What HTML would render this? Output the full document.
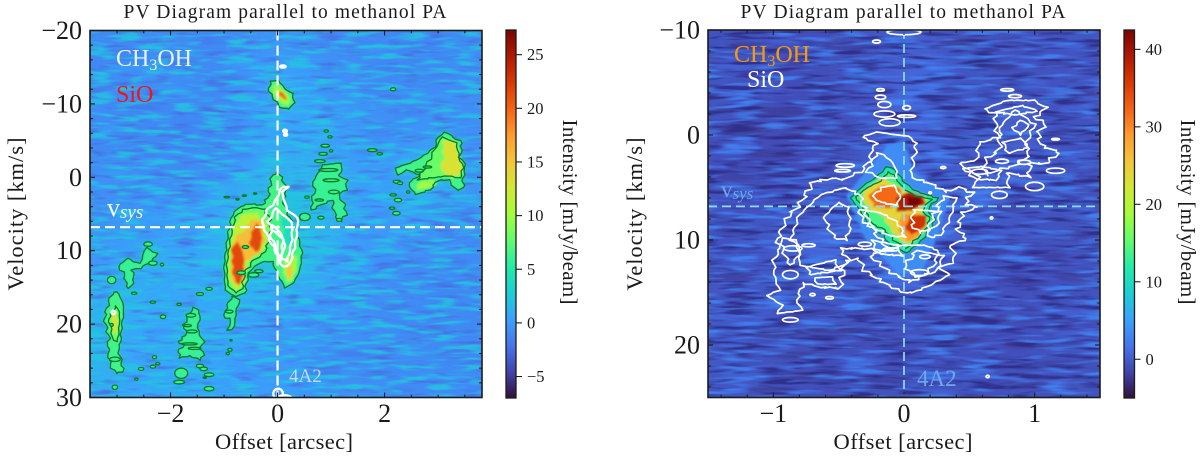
<!DOCTYPE html>
<html lang="en">
<head>
<meta charset="utf-8">
<title>PV Diagrams parallel to methanol PA</title>
<style>
html,body{margin:0;padding:0;background:#fff;width:1200px;height:462px;overflow:hidden}
svg{display:block}
text{font-family:"Liberation Serif","DejaVu Serif",serif;fill:#1a1a1a}
</style>
</head>
<body>
<svg id="figure" xmlns="http://www.w3.org/2000/svg" width="1200" height="462" viewBox="0 0 1200 462">
  <defs>
    <filter id="blur-heat" x="-10%" y="-10%" width="120%" height="120%"><feGaussianBlur stdDeviation="14 9"/></filter>
    <filter id="blur-streak" x="-20%" y="-20%" width="140%" height="140%"><feGaussianBlur stdDeviation="2.5 1"/></filter>
    <filter id="blur-fill" x="-10%" y="-10%" width="120%" height="120%"><feGaussianBlur stdDeviation="1.1"/></filter>
    <filter id="grain-left" x="0" y="0" width="100%" height="100%" color-interpolation-filters="sRGB">
      <feTurbulence type="fractalNoise" baseFrequency="0.035 0.2" numOctaves="2" seed="4" result="n"/>
      <feColorMatrix in="n" values="0 0 0 0 0.3  0 0 0 0 0.38  0 0 0 0 0.84  3 0 0 0 -1.65" result="dark"/>
      <feColorMatrix in="n" values="0 0 0 0 0.14  0 0 0 0 0.78  0 0 0 0 0.88  0 4 0 0 -1.9" result="light"/>
      <feMerge><feMergeNode in="dark"/><feMergeNode in="light"/></feMerge>
    </filter>
    <filter id="grain-right" x="0" y="0" width="100%" height="100%" color-interpolation-filters="sRGB">
      <feTurbulence type="fractalNoise" baseFrequency="0.025 0.2" numOctaves="2" seed="11" result="n"/>
      <feColorMatrix in="n" values="0 0 0 0 0.18  0 0 0 0 0.17  0 0 0 0 0.52  4.5 0 0 0 -2.2" result="dark"/>
      <feColorMatrix in="n" values="0 0 0 0 0.26  0 0 0 0 0.52  0 0 0 0 0.96  0 4 0 0 -2.0" result="light"/>
      <feMerge><feMergeNode in="dark"/><feMergeNode in="light"/></feMerge>
    </filter>
    <clipPath id="clip-left"><rect x="90" y="30" width="392" height="368"/></clipPath>
    <clipPath id="clip-right"><rect x="708" y="30" width="392" height="368"/></clipPath>
  </defs>

  <g id="panel-left"></g>
  <g id="panel-right"></g>

  <text x="285" y="18" font-size="19.5" text-anchor="middle" textLength="323" lengthAdjust="spacing">PV Diagram parallel to methanol PA</text>
  <text x="903" y="18" font-size="19.5" text-anchor="middle" textLength="325" lengthAdjust="spacing">PV Diagram parallel to methanol PA</text>
  <text x="284" y="449" font-size="22.5" text-anchor="middle" textLength="138" lengthAdjust="spacing">Offset [arcsec]</text>
  <text x="903" y="449" font-size="22.5" text-anchor="middle" textLength="139" lengthAdjust="spacing">Offset [arcsec]</text>
  <text transform="translate(23,214) rotate(-90)" font-size="22.5" text-anchor="middle" textLength="153" lengthAdjust="spacing">Velocity [km/s]</text>
  <text transform="translate(642,214) rotate(-90)" font-size="22.5" text-anchor="middle" textLength="153" lengthAdjust="spacing">Velocity [km/s]</text>
  <text transform="translate(563,212) rotate(90)" font-size="21" text-anchor="middle" textLength="185" lengthAdjust="spacing">Intensity [mJy/beam]</text>
  <text transform="translate(1181,212) rotate(90)" font-size="21" text-anchor="middle" textLength="185" lengthAdjust="spacing">Intensity [mJy/beam]</text>

  <text x="116" y="66" font-size="24" style="fill:#e8f2ff">CH<tspan font-size="16" dy="4">3</tspan><tspan dy="-4">OH</tspan></text>
  <text x="116" y="102" font-size="24" style="fill:#f01414">SiO</text>
  <text x="107" y="216" font-size="26" style="fill:#f2f6ff">v<tspan font-size="19" font-style="italic" dy="2">sys</tspan></text>
  <text x="289" y="382" font-size="19" style="fill:#c4dcff">4A2</text>

  <text x="734" y="62" font-size="24" style="fill:#f59a12">CH<tspan font-size="16" dy="4">3</tspan><tspan dy="-4">OH</tspan></text>
  <text x="747" y="87" font-size="24" style="fill:#ffffff">SiO</text>
  <text x="721" y="197" font-size="23" style="fill:#6aa8ea">v<tspan font-size="17" font-style="italic" dy="2">sys</tspan></text>
  <text x="917" y="386" font-size="23" style="fill:#6fa8e8">4A2</text>
</svg>

<script>
/* ---------- colour map (turbo) ---------- */
const turboStops = ['#30123b','#4145ab','#4675ed','#39a2fc','#1bcfd4','#24eca6','#61fc6c','#a4fc3b','#d1e834','#f3c63a','#fe9b2d','#f36315','#d93806','#b11901','#7a0402'];

/* ---------- tick values ---------- */
const leftXTicks = [-2, 0, 2];
const leftYTicks = [-20, -10, 0, 10, 20, 30];
const leftBarTicks = [-5, 0, 5, 10, 15, 20, 25];
const rightXTicks = [-1, 0, 1];
const rightYTicks = [-10, 0, 10, 20];
const rightBarTicks = [0, 10, 20, 30, 40];
const systemicVelocity = 6.8;
const sourceOffset = 0;

/* ---------- left image: coarse intensity grid (mJy/beam), rows top to bottom ---------- */
const leftHeat = [
 [-1,-1,-.8,-1,-1,-.8,-.3,-.5,-.8,-1,-1,-1,-1,-.9],
 [-1,-.8,-.7,-.9,-1,-.5,.4,.2,-.5,-.8,-1,-1,-.9,-.9],
 [-.9,-1,-1,-1,-1,-.5,.7,.4,-.2,-.4,-.8,-1,-.8,-.8],
 [-1,-1,-1,-1.1,-1,-.5,.6,.6,.2,-.3,-.6,-.4,0,-.8],
 [-.8,-.8,-.9,-1,-.6,.1,1,1,1,.1,-.2,.5,1,-.3],
 [-.7,-.5,-.5,-.4,.1,1.2,2,2,1.6,.3,.1,.8,1,-.5],
 [-.5,.1,.2,0,.7,2.4,2,2,1.2,.2,-.2,-.2,-.5,-.8],
 [-.3,.6,1,.4,.9,2.4,2,2,.6,0,-.6,-.8,-.8,-.9],
 [.7,1,.6,.5,.6,1.4,.6,.6,0,-.3,-.8,-.9,-1,-1],
 [1.4,.5,.4,1,.5,.3,-.3,-.2,-.3,-.6,-.8,-1,-.9,-1],
 [1.3,.5,.4,1,.3,0,-.4,-.3,-.6,-.8,-1,-.9,-1,-1],
 [1,.4,.6,.8,.3,0,.1,-.3,-.6,-.8,-.8,-.9,-.9,-1]
];
/* [offset, velocity, half-width arcsec, half-height km/s, intensity] */
const leftStreaks = [
 [-3,-17.5,.3,.5,-2],[-2.3,-18,.35,.4,.8],[-1.3,-18.5,.35,.4,-2.2],[.6,-18,.4,.4,-2],[1.6,-17.5,.4,.5,.7],[2.6,-18,.4,.4,-2.4],[3.4,-16.5,.3,.4,.6],
 [-2.8,-15,.35,.4,.8],[-1.8,-15.5,.3,.4,-2.4],[-.8,-15.5,.35,.4,.7],[1,-15,.3,.4,-2.3],[2.1,-15,.4,.4,-2.2],[3.1,-14,.3,.4,-2],
 [-3.1,-12.5,.3,.4,-2.4],[-2,-12,.35,.4,.8],[-1.1,-13,.25,.6,-3],[.8,-12,.35,.4,.8],[1.8,-12,.3,.4,-2.3],[3,-11,.35,.4,.7],
 [-2.6,-9.5,.4,.4,-2.6],[-1.5,-9,.35,.4,-2.2],[-.7,-9.5,.3,.4,.5],[1.2,-9,.35,.5,.9],[2.4,-9,.4,.4,-2.2],[3.3,-8,.3,.4,-2],
 [-3,-6.5,.35,.4,.7],[-2,-6,.35,.4,-2.5],[-1,-6.5,.35,.4,-2.4],[-.4,-6,.3,.4,.9],[2,-6,.35,.4,-2.3],[3.5,-5.5,.3,.4,-2.2],
 [-2.7,-3.5,.4,.4,-2.6],[-1.6,-3,.35,.4,.7],[-.7,-3,.3,.4,-2.2],[1.7,-3.5,.3,.4,-2.1],[2.6,-3,.3,.4,.9],
 [-3.1,-.5,.3,.4,.8],[-2.1,-.5,.35,.4,-2.4],[-1.2,0,.35,.4,-2],[1.9,-.5,.3,.4,.5],[3.6,-.5,.3,.4,-2.3],
 [-2.8,2,.35,.4,-2.2],[-1.7,2.5,.35,.4,-2.1],[-.9,2,.3,.4,.9],[1.5,3,.3,.4,-1.8],[3,4,.4,.4,-2.4],
 [-3.2,5,.3,.4,-2],[-2.2,5.5,.35,.4,.9],[-1.3,5,.3,.4,.7],[1.8,5,.35,.4,-1.8],[3.4,5,.3,.4,-2.5],
 [-2.6,8,.35,.4,-1.5],[-1.6,9,.3,.4,-1],[1.6,8,.35,.4,-2],[2.6,9,.4,.4,-2.6],[3.4,8,.3,.4,-2],
 [1.2,11,.35,.4,-2.3],[2.2,12,.4,.4,-2.3],[3.2,11.5,.35,.4,-2.6],[1.7,14,.35,.4,-2.5],[2.9,14.5,.4,.4,-2.2],
 [.3,16.5,.08,.9,-4],[-1.8,13.5,.3,.4,-1.2],[-3.2,13,.25,.4,-1.5],[1,17,.4,.4,-2.3],[2.1,17.5,.4,.4,-2.5],[3.3,17.5,.35,.4,-2.2],
 [.7,20,.4,.4,-2.4],[1.7,20.5,.4,.4,.6],[2.8,21,.4,.4,-2.6],[-2.2,21,.3,.4,-1.2],[-.7,21,.25,.4,-1.6],
 [.5,23,.35,.4,.7],[1.4,24,.4,.4,-2.5],[2.4,24,.4,.4,.5],[3.4,23.5,.3,.4,-2.4],[-2.4,24.5,.3,.4,-1.4],
 [.8,26.5,.4,.4,-2.3],[1.9,27,.35,.4,-2.4],[3,27,.4,.4,.7],[-.6,27,.35,.4,-1.7],[-2.3,28,.3,.4,-1.2],[.4,29,.35,.4,.6],[2.2,29,.35,.4,-2.3]
];
/* [contour level, outline as [offset, velocity] pairs] */
const leftFilled = [
 [6,[[.66,.6],[.85,-1.7],[1.17,-1.95],[1.22,-1],[1.13,-.3],[1.3,.4],[1.28,1.7],[1.13,2.4],[1.26,3.8],[1.28,5.1],[1.17,6.1],[1.07,5.1],[1.02,3.1],[.91,3.5],[.79,3.8],[.64,4.5],[.64,3.1],[.7,1.7]]],
 [6.5,[[2.2,-1.27],[2.48,-1.95],[2.7,-2.77],[2.94,-4.13],[3,-5.5],[3.13,-6.2],[3.28,-5.5],[3.45,-4.7],[3.41,-2.77],[3.52,-1.4],[3.47,-.3],[3.47,1.46],[3.36,1.87],[3.19,.37],[3,.37],[2.85,1.7],[2.57,2.4],[2.44,.8],[2.66,-.3],[2.42,-1],[2.25,-.3]]],
 [8,[[2.95,-3.9],[3.07,-5.5],[3.34,-4.7],[3.39,-2.77],[3.47,-1.3],[3.41,.1],[3.2,-.2],[2.85,.1],[2.6,.4],[2.78,-1.6]]],
 [10,[[2.65,.6],[2.9,.4],[3.0,.9],[2.8,1.5],[2.6,1.7]]],
 [13,[[3.07,-5.1],[3.32,-4.9],[3.41,-2.77],[3.47,-.7],[3.26,.1],[3.04,-1],[3.11,-3]]],
 [6.5,[[-3,15.6],[-2.91,16.7],[-2.87,18.1],[-2.91,20.1],[-2.94,22.8],[-2.98,23.5],[-2.91,25.2],[-2.89,26.5],[-3.02,26.7],[-3.13,25.6],[-3.17,23.5],[-3.15,21.9],[-3.21,20.1],[-3.24,19.2],[-3.17,17.4],[-3.13,16.4],[-3.06,15.6]]],
 [8,[[-3.03,17.5],[-2.95,18.4],[-2.96,20.5],[-2.99,22.4],[-3.08,22.2],[-3.12,20.2],[-3.16,19.3],[-3.08,18.2]]],
 [13,[[-3.07,18.4],[-2.99,19],[-3,21.2],[-3.07,21.3],[-3.11,19.7]]],
 [6,[[-2.94,11.8],[-2.79,11],[-2.7,11.5],[-2.57,11.7],[-2.51,10.6],[-2.46,9.5],[-2.38,9.9],[-2.25,10.4],[-2.35,11.5],[-2.46,11.9],[-2.57,12.4],[-2.72,12.6],[-2.68,14],[-2.76,15.1],[-2.83,14.9],[-2.85,13.3],[-2.94,12.6]]],
 [6,[[-1.58,17.7],[-1.47,18.1],[-1.45,19.4],[-1.5,20.5],[-1.45,21.5],[-1.37,22.4],[-1.45,23.3],[-1.37,24.2],[-1.45,24.9],[-1.64,24.3],[-1.82,24.6],[-1.86,23.8],[-1.75,22.8],[-1.86,22.4],[-1.71,21.5],[-1.75,20.1],[-1.67,18.8]]],
 [6,[[-.85,16.2],[-.7,16.7],[-.78,18.3],[-.79,19.7],[-.85,20.8],[-.93,20.8],[-.87,19.2],[-1,19.2],[-.96,17.8],[-.91,17]]],
 [6.5,[[-.98,15.35],[-1,11.9],[-.93,7.9],[-.85,5.1],[-.7,4],[-.51,3.6],[-.29,3.8],[-.18,2.8],[-.14,1.05],[-.1,-.3],[.01,-.7],[.1,.4],[.18,1.7],[.1,3.1],[.2,5.1],[.36,7.5],[.46,10.3],[.42,12.6],[.31,14.3],[.14,15.1],[.01,13.3],[-.1,11.5],[-.29,11.5],[-.51,12.6],[-.57,14],[-.61,15.8],[-.79,16.2]]],
 [4,[[.05,5],[.3,6.5],[.3,9],[.15,9.5],[.1,7]]],
 [8,[[-.93,14.7],[-.95,11.9],[-.87,7.9],[-.79,5.4],[-.64,4.4],[-.42,4.1],[-.24,4.4],[-.14,5.7],[-.14,8.5],[-.27,10.5],[-.45,11.3],[-.62,13],[-.66,15.2],[-.78,15.8]]],
 [11.5,[[-.91,14],[-.91,9.9],[-.81,6.5],[-.64,5],[-.4,4.9],[-.21,6.5],[-.18,8.5],[-.29,10.2],[-.51,11],[-.59,12.6],[-.63,14.7],[-.78,15.4]]],
 [15.5,[[-.87,13.6],[-.87,9.9],[-.78,8],[-.61,7.2],[-.51,5.8],[-.31,5.8],[-.24,8.5],[-.34,10.4],[-.6,11.5],[-.63,13.9],[-.77,14.7]]],
 [21.5,[[-.85,9.5],[-.74,8.7],[-.63,10.6],[-.63,13.3],[-.73,14.7],[-.83,13.5],[-.85,11.3]]],
 [21.5,[[-.5,7.5],[-.38,6.2],[-.3,7.5],[-.3,9.2],[-.38,10.2],[-.52,9.4]]],
 [10,[[.14,11],[.35,10.6],[.36,12.4],[.27,14],[.18,14.4],[.1,12.6]]],
 [15,[[.17,12.2],[.29,12],[.26,13.7],[.18,14]]],
 [7,[[-.14,-13.1],[.02,-13.2],[.13,-12.1],[.28,-11.4],[.31,-10.2],[.22,-9.3],[.05,-9.5],[-.06,-10.6],[-.16,-11.7]]],
 [10.5,[[-.08,-12.5],[.03,-12.4],[.14,-11.6],[.24,-10.7],[.19,-9.9],[.06,-10.2],[-.07,-11.4]]],
 [20,[[.03,-11.8],[.1,-11.5],[.19,-10.7],[.14,-10.5],[.03,-11.2]]]
];
const leftGreenSpots = [
 [-3.1,14,.08,.5],[-3.04,28.6,.05,.3],[-2.55,26.1,.05,.2],[-2.64,27.5,.03,.15],[-2.33,25.8,.05,.2],[-2.3,24.5,.04,.2],[-2.24,25.4,.04,.15],[-2.14,19,.05,.25],[-2.68,15.8,.05,.15],[-2.33,17,.05,.15],[-1.84,17.3,.04,.15],[-1.45,15.9,.07,.2],[-1.28,15.2,.06,.2],
 [-2.16,11.9,.03,.2],[-2.33,11.7,.08,.3],[-2.42,9.1,.08,.3],[-.89,23.5,.04,.2],[-.93,24,.03,.15],[-.87,22.2,.02,.1],[-1.8,26.7,.12,.7],[-1.84,27.9,.1,.25],[-1.45,25.7,.07,.25],[-1.38,26.1,.07,.25],[-1.28,26.9,.09,.25],[-1.28,28.8,.09,.3],[-1.36,27.3,.03,.1],[-3.04,24.8,.1,.3],[-3.1,20.1,.03,.2],
 [.89,-4.3,.08,.2],[.85,-3.2,.08,.2],[.79,-2.2,.1,.2],[.98,-5.5,.04,.15],[.91,-6.3,.04,.15],[1,-3.6,.03,.15],[1.77,-3.7,.09,.2],[1.91,-3.2,.05,.15],[2.16,-12,.05,.2],[2.22,4.9,.07,.25],[2.25,3.1,.07,.25],[2.16,2.4,.06,.15],[2.14,4.2,.05,.15],[2.23,.6,.07,.2],[2.29,.8,.05,.2],[2.44,2,.03,.15],[.55,2.7,.04,.15],[.51,5.4,.1,.5],[.81,5.5,.06,.2],[1.15,5.8,.05,.2],[.95,-1,.18,.2],[1,.4,.15,.2],[1.05,2,.1,.25],[.78,3.1,.08,.15],
 [2.65,-.9,.08,.2],[2.8,-1.4,.08,.15],[-1.62,18.8,.09,.25],[-1.6,21,.1,.2],[-1.65,22.7,.15,.15],[-1.55,23.3,.12,.15],[-1.68,20.2,.07,.15],[-.6,9.5,.06,.2],[-.9,18.3,.07,.2],[-.68,13,.08,.25],[-.45,13.3,.1,.3],[-.35,12.8,.08,.2],[-.75,3,.03,.1],[-.62,2.5,.04,.1],[-.42,2.2,.03,.1],[-.95,2.7,.05,.1]
];
const leftWhiteContours = [
 [[.1,1.3],[.21,1.3],[.08,2],[.18,4.5],[.38,5.5],[.36,7.6],[.33,9.2],[.23,11.9],[.1,12.2],[-.05,9.9],[-.18,8.1],[-.29,6.2],[-.2,4.5],[-.05,3.4],[.03,2.1]],
 [[-.03,4.2],[.1,5.1],[.27,6.1],[.27,8.5],[.18,11.5],[.07,11],[.1,8.3],[-.05,7.5],[-.18,6.1]],
 [[-.1,6.5],[.05,7.5],[.14,9.2],[.05,11.5],[-.05,9.2],[-.14,7.9]]
];
const leftWhiteSpots = [[.1,-15.1,.05,.15],[.14,-6.3,.035,.2],[.15,-5.8,.03,.15],[.01,29.5,.09,.7],[.13,30,.12,.3],[-3.07,18.4,.035,.25]];

/* ---------- right image ---------- */
const rightHeat = [
 [-.6,-.7,-.8,-.9,-.7,0,.3,-.5,-.7,-.8,-.6,-.5],
 [-.5,-.8,-1,-.9,-.6,.2,1.2,-.2,-.6,-.7,-.6,-.5],
 [-.7,-.9,-1,-1,-.7,.2,.7,-.4,0,.1,-.6,-.6],
 [-.8,-1,-1,-1,-.5,.5,.7,-.1,.2,.4,-.5,-.6],
 [-.7,-.8,-.6,.1,.2,1.4,1.2,.3,.5,.3,-.6,-.7],
 [-.6,-.4,.1,.7,.8,1.6,1.6,.4,-.2,-.5,-.7,-.7],
 [-.6,-.4,.1,.7,.5,1,1.4,.1,-.6,-.8,-.8,-.7],
 [-.4,-.1,-.2,-.2,-.4,-.4,-.3,-.5,-.7,-.8,-.7,-.6],
 [0,-.5,-.7,-.9,-.9,-.8,-.7,-.8,-.9,-.8,-.7,-.7],
 [-.4,-.6,-.8,-.9,-.8,-.7,-.6,-.7,-.8,-.7,-.7,-.7]
];
const rightStreaks = [
 [-1.2,-8.5,.15,.4,-2.6],[-.9,-9,.15,.3,1.5],[-.45,-8.5,.18,.4,-2.5],[-.1,-9,.12,.3,-2.2],[.45,-8.8,.18,.4,-3],[.9,-9,.15,.3,-2.4],[1.3,-8.5,.15,.4,1.4],
 [-1.3,-6.5,.15,.35,1.4],[-.8,-6.8,.18,.4,-2.4],[-.35,-6.5,.12,.35,1.2],[.25,-6.5,.15,.35,1.2],[.7,-6.5,.15,.35,-3],[1.2,-6.8,.15,.4,-2.2],
 [-1.1,-4.5,.2,.4,1.5],[-.6,-4.8,.15,.35,-2.6],[-.2,-4.3,.12,.35,-2.4],[.4,-4.5,.14,.35,-2.4],[.95,-5,.15,.35,1.4],[1.35,-4,.12,.35,-2.6],
 [-1.3,-2.5,.15,.4,-2.6],[-.95,-2.2,.2,.4,-2.8],[-.5,-2.5,.15,.35,1],[.35,-2.5,.15,.35,-2.6],[1.3,-2.5,.12,.35,1.2],
 [-1.2,-.5,.2,.45,-3],[-.7,-.3,.2,.4,-2.8],[-.4,-.6,.12,.35,-2.2],[.3,-.4,.15,.4,-2.4],[1.3,-.3,.15,.4,-2.8],
 [-1.35,1.5,.12,.4,1.4],[-1,1.8,.2,.4,-2.6],[-.55,1.2,.15,.35,-2.6],[.4,2,.12,.35,-2.4],[1.3,2,.15,.4,1.2],
 [-1.3,4,.15,.4,-2.4],[-.95,3.5,.18,.4,-2.4],[1.3,4.5,.15,.4,-2.4],
 [-1.25,6,.15,.4,1.5],[-.95,6.5,.12,.35,-2],[.75,7,.2,.4,-2.6],[1.25,7,.15,.4,1.4],
 [-1.3,9,.15,.4,-2.8],[.85,9,.2,.4,1],[1.3,9.5,.15,.4,-2.4],
 [-1.25,11.5,.15,.4,1.2],[.65,11,.2,.4,-2.8],[1.05,11.5,.2,.35,-2.8],
 [-1.3,13.5,.18,.4,-2.6],[-.2,15.5,.15,.35,-2.6],[.55,13.5,.18,.4,1.4],[.9,14,.2,.4,-2.4],[1.3,13.5,.15,.4,-2.6],
 [-1.3,17,.18,.4,1.8],[-1.05,18,.12,.4,2.4],[-.7,17,.2,.35,-2.6],[-.2,16.8,.18,.35,-2.8],[.3,17.5,.2,.35,-2.6],[.85,17.5,.2,.35,-3],[1.3,17,.15,.35,1.2],
 [-1.05,19,.25,.35,-3],[-.55,18.5,.2,.35,-3.4],[-.15,19.5,.18,.35,-2.8],[.4,19.5,.2,.35,-3],[.95,20,.2,.35,-3],[1.3,19,.15,.35,1],
 [-1.3,20.5,.18,.35,-2.4],[-.8,21,.2,.35,-2.8],[-.3,21.5,.2,.35,1],[.7,21.5,.2,.35,-2.6],[1.2,21.8,.2,.35,-2.4],
 [-1.2,23,.2,.35,1.2],[-.7,23,.25,.35,-3.2],[-.2,23.5,.2,.35,-2.8],[.5,23,.2,.35,1.2],[.9,23.8,.2,.35,-2.8],[-1,24.3,.2,.3,-3],[.2,24.5,.2,.3,1.3]
];
const rightFilled = [
 [3.5,[[-.44,5.7],[-.26,3],[-.13,1],[0,.5],[.07,3.5],[.35,5.8],[.24,10],[.14,13],[-.05,13.2],[-.3,9.8]]],
 [11,[[-.41,6],[-.31,4.8],[-.21,4],[-.13,3],[-.07,3.3],[.01,4.6],[.1,5.4],[.26,6],[.18,7.1],[.24,8.1],[.2,9],[.12,10.3],[.02,11.2],[-.11,10.5],[-.16,9.5],[-.26,8.8],[-.34,7.1]]],
 [14,[[-.37,5.9],[-.28,5],[-.18,4.4],[-.12,3.5],[-.08,3.8],[-.01,5],[.08,5.8],[.21,6.1],[.14,7.1],[.2,8.1],[.16,9],[.08,10.1],[.02,10.8],[-.08,10],[-.15,9],[-.24,8.5],[-.31,7]]],
 [24,[[-.32,5.4],[-.17,4.1],[.01,5.3],[.18,6],[.13,7.6],[.18,8.6],[.1,9.9],[.01,10.5],[-.08,9.3],[-.17,7.6],[-.29,6.9]]],
 [29,[[-.02,7.5],[.14,7.5],[.12,9.6],[.03,10.2],[-.04,9]]],
 [32,[[-.27,5.7],[-.17,4.8],[-.03,5],[-.02,6.3],[-.11,7],[-.23,6.8]]],
 [39,[[-.06,6],[.04,5.4],[.14,5.8],[.17,6.5],[.06,7.2],[-.05,7.3]]],
 [36.5,[[.04,7.7],[.18,7.6],[.16,8.8],[.06,9.5],[.01,9]]],
 [42.5,[[.02,5.9],[.12,6],[.13,6.6],[.04,6.8]]]
];
const rightWhiteContours = [
 [[-1.05,15.3],[-1,15],[-.95,14.8],[-.99,13.6],[-.99,12.9],[-1,11.9],[-.95,11],[-.97,10.2],[-.95,9.3],[-.87,7.4],[-.83,7.1],[-.78,6.2],[-.74,5.4],[-.7,4.5],[-.62,4.3],[-.54,4.1],[-.47,4.3],[-.39,3.8],[-.33,3.5],[-.26,2.4],[-.25,1.5],[-.21,.8],[-.32,.2],[-.21,-.3],[-.05,0],[.03,.1],[.1,.8],[.07,1],[.1,1.4],[.07,2.2],[.07,3],[.05,4],[.24,4.8],[.31,5.4],[.43,5],[.52,5.5],[.47,6.5],[.56,6.9],[.45,7.4],[.43,8.2],[.41,9],[.48,9.9],[.35,10.5],[.39,11.3],[.37,12.2],[.26,12.6],[.35,13.3],[.2,14.3],[.07,15],[-.01,15],[-.15,14.1],[-.3,12.9],[-.35,11.7],[-.45,12.1],[-.47,13.3],[-.49,14.6],[-.64,14.5],[-.77,14.1],[-.82,15.7],[-.78,16.7],[-.97,17],[-.93,16.2]],
 [[-.8,7.6],[-.64,5.7],[-.45,5],[-.34,5.7],[-.26,8.6],[-.18,10],[-.11,11],[-.34,10.8],[-.49,10.8],[-.41,12.1],[-.57,12.9],[-.8,12.4],[-.8,10.5],[-.87,10]],
 [[-.6,7.6],[-.5,6.4],[-.43,6.9],[-.41,8.6],[-.44,10],[-.53,9.8],[-.59,8.6]],
 [[-.18,5],[-.08,4.8],[-.03,5.7],[-.05,6.7],[-.15,6.5],[-.24,6]],
 [[-.34,7.1],[-.18,7.4],[-.05,8.3],[.01,9.7],[-.11,9.6],[-.22,8.9],[-.32,8.1]],
 [[.07,7.1],[.28,7.3],[.25,8.7],[.12,9.3],[.06,8.6]],
 [[-.21,1.7],[-.15,1.9],[-.07,2.9],[-.05,4.1],[-.18,4.1],[-.28,3.5]],
 [[.01,10.5],[.16,10.5],[.26,11],[.24,12.2],[.16,13.3],[.05,14],[-.07,13.3],[-.18,12.4],[-.26,11.4]],
 [[.62,-2.5],[.79,-3.3],[.99,-3.3],[1.09,-2.6],[1,-1.7],[1.09,-1],[1.02,-.2],[1.06,1.1],[1.19,1.6],[1.09,2.7],[.96,2.7],[.96,4],[.79,3.6],[.8,5],[.52,5],[.58,4],[.42,2.7],[.56,2.4],[.57,.8],[.72,.2],[.7,-1.1],[.71,-1.9]],
 [[.73,-.7],[.85,-2.4],[1,-1],[.93,.95],[.96,1.9],[.85,2.9],[.73,3.3],[.62,3.8],[.62,2.4],[.73,1.4]],
 [[.89,-1.4],[.96,-1],[.89,0],[.83,-.7]],
 [[-.93,9.8],[-.83,10],[-.8,11.4],[-.87,12.4],[-.93,11]],
 [[-.75,12.6],[-.53,11.9],[-.49,12.9],[-.72,13.3]],
 [[-.68,13.6],[-.55,13.5],[-.52,14.2],[-.66,14.2]],
 [[-.25,10],[-.05,10.5],[-.02,11.5],[-.2,11.3]],
 [[.3,5.8],[.4,6],[.35,8],[.28,9.5],[.2,9.8],[.18,9]],
 [[.1,11],[.3,11.5],[.25,13],[.1,13.5],[0,12.5]],
 [[.45,3.2],[.6,3],[.75,3.4],[.7,4.3],[.55,4.2]],
 [[.75,.7],[.9,.3],[.95,1.2],[.8,1.7]],
 [[.7,-2.2],[.9,-2.8],[1.03,-2.3],[.85,-1.9]]
];
const rightWhiteSpots = [
 [.79,-4.3,.05,.12],[.85,-3.7,.05,.15],[1.16,.4,.03,.08],[1.16,3.4,.07,.25],[1,4.9,.07,.4],[.73,5.7,.06,.35],[.67,7.9,.01,.1],[.64,23,.012,.12],[-.21,-8.9,.03,.15],[-.18,-4.3,.03,.12],[-.18,-3.6,.04,.2],[-.15,-2.9,.05,.3],[-.15,-2,.08,.3],[-.11,-1.2,.08,.35],[.02,-2.6,.03,.2],[.02,-1.8,.07,.12],[-.45,2.9,.07,.17],[-.47,3.4,.06,.12],[.0,-9.8,.13,.25],[-.85,10.8,.07,.25],[-.73,10.5,.05,.15],[-.87,13.3,.06,.4],[-.7,15.2,.02,.12],[-.57,15.5,.03,.12],[-.87,17.6,.06,.22],[.16,11.6,.04,.18],[.12,13.1,.07,.28],[.3,3.1,.02,.1],[.2,5.5,.01,.1],[.58,3.5,.06,.25],[.75,2.5,.05,.2],[.92,2.6,.05,.2],[-.3,10.4,.05,.2],[-.1,10.9,.06,.15]
];

/* ---------- helpers ---------- */
const svgNS = 'http://www.w3.org/2000/svg';
function hexRgb(h){return [parseInt(h.slice(1,3),16),parseInt(h.slice(3,5),16),parseInt(h.slice(5,7),16)];}
function turbo(t){
  t=Math.max(0,Math.min(1,t));
  const p=t*(turboStops.length-1), i=Math.min(turboStops.length-2,Math.floor(p)), f=p-i;
  const a=hexRgb(turboStops[i]), b=hexRgb(turboStops[i+1]);
  return 'rgb('+a.map((c,k)=>Math.round(c+(b[k]-c)*f)).join(',')+')';
}
function make(tag,attrs,parent){
  const el=document.createElementNS(svgNS,tag);
  for(const k in attrs) el.setAttribute(k,attrs[k]);
  parent.appendChild(el);
  return el;
}
function linear(d0,d1,r0,r1){return v=>r0+(v-d0)/(d1-d0)*(r1-r0);}
function fmt(v){return v<0?'\u2212'+Math.abs(v):String(v);}

function drawPanel(cfg){
  const root=document.getElementById(cfg.id);
  const sx=linear(cfg.xDomain[0],cfg.xDomain[1],cfg.box[0],cfg.box[2]);
  const sy=linear(cfg.yDomain[0],cfg.yDomain[1],cfg.box[1],cfg.box[3]);
  const col=v=>turbo((v-cfg.vRange[0])/(cfg.vRange[1]-cfg.vRange[0]));
  const clipped=make('g',{'clip-path':'url(#'+cfg.clip+')'},root);
  
  

  make('rect',{x:cfg.box[0],y:cfg.box[1],width:cfg.box[2]-cfg.box[0],height:cfg.box[3]-cfg.box[1],fill:col(cfg.base)},clipped);

  /* coarse heat cells */
  const heatG=make('g',{filter:'url(#blur-heat)'},clipped);
  const rows=cfg.heat.length, cols=cfg.heat[0].length;
  const dx=(cfg.xDomain[1]-cfg.xDomain[0])/cols, dy=(cfg.yDomain[1]-cfg.yDomain[0])/rows;
  cfg.heat.forEach((row,r)=>row.forEach((val,c)=>{
    const x0=sx(cfg.xDomain[0]+c*dx), y0=sy(cfg.yDomain[0]+r*dy);
    const cell=make('rect',{x:x0-(c===0?30:0),y:y0-(r===0?30:0),width:sx(cfg.xDomain[0]+(c+1)*dx)-x0+(c===0?30:0)+(c===cols-1?30:0)+.5,height:sy(cfg.yDomain[0]+(r+1)*dy)-y0+(r===0?30:0)+(r===rows-1?30:0)+.5,fill:col(val)},heatG);
    
    
  }));

  /* streaks */
  const streakG=make('g',{filter:'url(#blur-streak)',opacity:cfg.streakOpacity},clipped);
  cfg.streaks.forEach(s=>{
    const e=make('ellipse',{cx:sx(s[0]),cy:sy(s[1]),rx:Math.abs(sx(s[2])-sx(0)),ry:Math.abs(sy(s[3])-sy(0)),fill:col(s[4])},streakG);
    
    
  });

  /* decorative fine grain texture of the image background */
  const grain=make('rect',{x:cfg.box[0],y:cfg.box[1],width:cfg.box[2]-cfg.box[0],height:cfg.box[3]-cfg.box[1],filter:'url(#'+cfg.grain+')',opacity:cfg.grainOpacity},clipped);
  
  

  /* contour outlines through the axis functions, with a small finger-like edge */
  const outline=(p,amp)=>{
    const out=[]; let k=0;
    const px=p.map(q=>[sx(q[0]),sy(q[1])]);
    px.forEach((a,i)=>{
      const b=px[(i+1)%px.length];
      const n=Math.max(1,Math.round(Math.hypot(b[0]-a[0],b[1]-a[1])/3.5));
      for(let j=0;j<n;j++){
        const x=a[0]+(b[0]-a[0])*j/n, y=a[1]+(b[1]-a[1])*j/n;
        out.push((x+amp*(Math.sin(k*1.9)+.6*Math.sin(k*4.3))).toFixed(1)+','+(y+amp*.35*Math.sin(k*3.1)).toFixed(1));
        k++;
      }
    });
    return out.join(' ');
  };

  const fillG=make('g',{filter:'url(#blur-fill)'},clipped);
  cfg.filled.forEach(f=>{
    const poly=make('polygon',{points:outline(f[1],cfg.greenRough),fill:col(f[0])},fillG);
    
    
  });
  const greenG=make('g',{fill:'none',stroke:'#0a7a22','stroke-width':1.3,'stroke-linejoin':'round'},clipped);
  
  
  cfg.filled.forEach(f=>{
    if(f[0]>=cfg.lineLevels[0]&&f[0]<=cfg.lineLevels[1]) make('polygon',{points:outline(f[1],cfg.greenRough)},greenG);
  });
  cfg.greenSpots.forEach(s=>{
    make('ellipse',{cx:sx(s[0]),cy:sy(s[1]),rx:Math.abs(sx(s[2])-sx(0)),ry:Math.abs(sy(s[3])-sy(0)),fill:col(cfg.spotLevel)},greenG);
  });

  /* reference lines */
  const hLine=make('line',{x1:cfg.box[0],x2:cfg.box[2],y1:sy(systemicVelocity),y2:sy(systemicVelocity),stroke:cfg.refColor,'stroke-width':cfg.refWidth,'stroke-dasharray':cfg.refDash},clipped);
  
  
  const vLine=make('line',{x1:sx(sourceOffset),x2:sx(sourceOffset),y1:cfg.box[1],y2:cfg.box[3],stroke:cfg.refColor,'stroke-width':cfg.refWidth,'stroke-dasharray':cfg.refDash},clipped);
  
  

  /* white contours */
  const whiteG=make('g',{fill:'none',stroke:'#ffffff','stroke-width':cfg.whiteWidth,'stroke-linejoin':'round'},clipped);
  
  
  cfg.white.forEach(p=>make('polygon',{points:outline(p,cfg.whiteRough)},whiteG));
  cfg.whiteSpots.forEach(s=>{
    make('ellipse',{cx:sx(s[0]),cy:sy(s[1]),rx:Math.abs(sx(s[2])-sx(0)),ry:Math.abs(sy(s[3])-sy(0))},whiteG);
  });

  /* frame and ticks */
  const axisG=make('g',{stroke:'#1c1c1c','stroke-width':1.1},root);
  
  
  const tick=(x1,y1,x2,y2)=>make('line',{x1,y1,x2,y2},axisG);
  for(let v=Math.ceil(cfg.xDomain[0]/cfg.xMinor);v*cfg.xMinor<=cfg.xDomain[1];v++){
    const val=v*cfg.xMinor, x=sx(val), major=cfg.xTicks.some(t=>Math.abs(t-val)<1e-6), L=major?5:2.8;
    tick(x,cfg.box[3],x,cfg.box[3]-L); tick(x,cfg.box[1],x,cfg.box[1]+L);
  }
  for(let v=Math.ceil(cfg.yDomain[0]/cfg.yMinor);v*cfg.yMinor<=cfg.yDomain[1];v++){
    const val=v*cfg.yMinor, y=sy(val), major=cfg.yTicks.some(t=>Math.abs(t-val)<1e-6), L=major?5:2.8;
    tick(cfg.box[0],y,cfg.box[0]+L,y); tick(cfg.box[2],y,cfg.box[2]-L,y);
  }
  const frame=make('rect',{x:cfg.box[0],y:cfg.box[1],width:cfg.box[2]-cfg.box[0],height:cfg.box[3]-cfg.box[1],fill:'none',stroke:'#1c1c1c','stroke-width':1.6},root);
  
  

  cfg.xTicks.forEach(t=>{
    const el=make('text',{x:sx(t),y:422,'font-size':26,'text-anchor':'middle'},root);
    el.textContent=fmt(t);
    
    
  });
  cfg.yTicks.forEach(t=>{
    const el=make('text',{x:cfg.box[0]-8,y:sy(t)+8.5,'font-size':26,'text-anchor':'end'},root);
    el.textContent=fmt(t);
    
    
  });

  /* colour bar */
  const grad=make('linearGradient',{id:cfg.prefix+'-grad',x1:0,y1:1,x2:0,y2:0},document.querySelector('defs'));
  turboStops.forEach((c,i)=>make('stop',{offset:i/(turboStops.length-1),'stop-color':c},grad));
  const b=cfg.bar;
  const bar=make('rect',{x:b[0],y:b[1],width:b[2]-b[0],height:b[3]-b[1],fill:'url(#'+cfg.prefix+'-grad)',stroke:'#1c1c1c','stroke-width':1.3},root);
  
  
  const sv=linear(cfg.vRange[0],cfg.vRange[1],b[3],b[1]);
  cfg.barTicks.forEach(t=>{
    const ln=make('line',{x1:b[2],x2:b[2]+6,y1:sv(t),y2:sv(t),stroke:'#1c1c1c','stroke-width':1.1},root);
    
    
    const el=make('text',{x:b[2]+11,y:sv(t)+5.5,'font-size':16.5},root);
    el.textContent=fmt(t);
    
    
  });
}

drawPanel({
  id:'panel-left',prefix:'left',clip:'clip-left',box:[90,30.5,482,397.5],bar:[506,30,516,398],
  xDomain:[-3.505,3.82],yDomain:[-20,30],vRange:[-7,27.3],base:-.8,
  xTicks:leftXTicks,yTicks:leftYTicks,barTicks:leftBarTicks,xMinor:.5,yMinor:2,
  heat:leftHeat,streaks:leftStreaks,filled:leftFilled,greenSpots:leftGreenSpots,
  white:leftWhiteContours,whiteSpots:leftWhiteSpots,lineLevels:[5,8],spotLevel:6,
  refColor:'#ffffff',refWidth:2.2,refDash:'10 5',whiteWidth:2.3,streakOpacity:.4,
  grain:'grain-left',grainOpacity:.8,greenRough:1.1,whiteRough:.7
});
drawPanel({
  id:'panel-right',prefix:'right',clip:'clip-right',box:[708,30,1100,397.5],bar:[1124,30,1134.5,398],
  xDomain:[-1.5,1.5],yDomain:[-10,25],vRange:[-5,42.5],base:-.6,
  xTicks:rightXTicks,yTicks:rightYTicks,barTicks:rightBarTicks,xMinor:.2,yMinor:2,
  heat:rightHeat,streaks:rightStreaks,filled:rightFilled,greenSpots:[],
  white:rightWhiteContours,whiteSpots:rightWhiteSpots,lineLevels:[10,15],spotLevel:8,
  refColor:'#8fdcf5',refWidth:1.7,refDash:'9 5',whiteWidth:1.7,streakOpacity:.45,
  grain:'grain-right',grainOpacity:.85,greenRough:1,whiteRough:2
});
</script>
</body>
</html>
